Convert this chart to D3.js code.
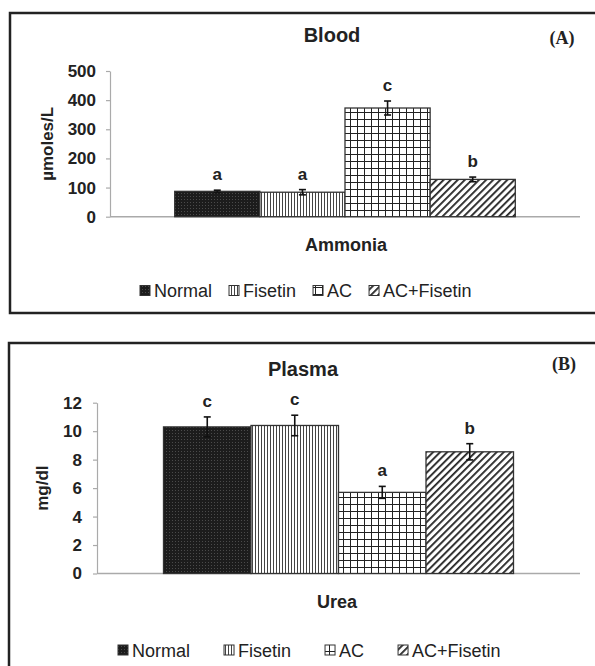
<!DOCTYPE html>
<html>
<head>
<meta charset="utf-8">
<script src="https://cdn.jsdelivr.net/npm/d3@7"></script>
<style>
  html, body { margin: 0; padding: 0; background: #fff; }
  svg { display: block; }
  text { font-family: "Liberation Sans", Arial, sans-serif; fill: #222; }
</style>
</head>
<body>
<svg id="chart" width="595" height="666"></svg>
<script>
// ---- data ----
const groups = ["Normal", "Fisetin", "AC", "AC+Fisetin"];

const bloodCategory = ["Ammonia"];
const bloodValues = [87, 84, 373, 128];
const bloodErrors = [4, 9, 24, 8];
const bloodLetters = ["a", "a", "c", "b"];
const bloodTicks = [0, 100, 200, 300, 400, 500];

const plasmaCategory = ["Urea"];
const plasmaValues = [10.3, 10.4, 5.7, 8.55];
const plasmaErrors = [0.7, 0.72, 0.42, 0.57];
const plasmaLetters = ["c", "c", "a", "b"];
const plasmaTicks = [0, 2, 4, 6, 8, 10, 12];

const svg = d3.select("#chart");
const defs = svg.append("defs");

// patterns
const pNormal = defs.append("pattern").attr("id", "pNormal").attr("patternUnits", "userSpaceOnUse")
  .attr("width", 3).attr("height", 3);
pNormal.append("rect").attr("width", 3).attr("height", 3).attr("fill", "#1c1c1c");
pNormal.append("rect").attr("x", 1).attr("y", 1).attr("width", 1).attr("height", 1).attr("fill", "#4a4a4a");

const pFis = defs.append("pattern").attr("id", "pFisetin").attr("patternUnits", "userSpaceOnUse")
  .attr("width", 3).attr("height", 3);
pFis.append("rect").attr("width", 3).attr("height", 3).attr("fill", "#fff");
pFis.append("rect").attr("x", 0).attr("y", 0).attr("width", 1).attr("height", 3).attr("fill", "#444");

const pAC = defs.append("pattern").attr("id", "pAC").attr("patternUnits", "userSpaceOnUse")
  .attr("width", 7).attr("height", 7);
pAC.append("rect").attr("width", 7).attr("height", 7).attr("fill", "#fff");
pAC.append("rect").attr("x", 0).attr("y", 0).attr("width", 1).attr("height", 7).attr("fill", "#222");
pAC.append("rect").attr("x", 0).attr("y", 0).attr("width", 7).attr("height", 1).attr("fill", "#222");

const pACF = defs.append("pattern").attr("id", "pACF").attr("patternUnits", "userSpaceOnUse")
  .attr("width", 5).attr("height", 5).attr("patternTransform", "rotate(45)");
pACF.append("rect").attr("width", 5).attr("height", 5).attr("fill", "#fff");
pACF.append("rect").attr("x", 0).attr("y", 0).attr("width", 1.8).attr("height", 5).attr("fill", "#222");

const fills = d3.scaleOrdinal().domain(groups).range(["url(#pNormal)", "url(#pFisetin)", "url(#pAC)", "url(#pACF)"]);

function drawPanel(cfg) {
  const g = svg.append("g");
  // frame
  g.append("rect").attr("x", cfg.box[0]).attr("y", cfg.box[1]).attr("width", cfg.box[2]).attr("height", cfg.box[3])
    .attr("fill", "none").attr("stroke", "#222").attr("stroke-width", 2.5);

  const y = d3.scaleLinear().domain([0, cfg.ticks[cfg.ticks.length - 1]]).range([cfg.y0, cfg.y1]);
  const x0 = d3.scaleBand().domain(cfg.category).range([cfg.xl, cfg.xr]).paddingInner(0).paddingOuter(0.19);
  const x1 = d3.scaleBand().domain(groups).range([0, x0.bandwidth()]).padding(0);

  // axis
  const ax = g.append("g").attr("transform", `translate(${cfg.xl},0)`)
    .call(d3.axisLeft(y).tickValues(cfg.ticks).tickSize(4).tickSizeOuter(0).tickPadding(cfg.tickPad).tickFormat(d3.format("d")));
  ax.select(".domain").attr("stroke", "#aaa").attr("stroke-width", 1.2);
  ax.selectAll(".tick line").attr("stroke", "#aaa").attr("stroke-width", 1.2);
  ax.selectAll(".tick text").attr("font-size", 17).attr("font-weight", "bold").attr("fill", "#222")
    .attr("font-family", "Liberation Sans, Arial, sans-serif");

  // baseline
  g.append("line").attr("x1", cfg.xl).attr("x2", cfg.xr).attr("y1", y(0)).attr("y2", y(0))
    .attr("stroke", "#aaa").attr("stroke-width", 1.5);

  const data = groups.map((k, i) => ({ k, v: cfg.values[i], e: cfg.errors[i], l: cfg.letters[i] }));
  const cat = cfg.category[0];
  const bx = d => x0(cat) + x1(d.k);

  g.selectAll("rect.bar").data(data).join("rect").attr("class", "bar")
    .attr("x", d => bx(d)).attr("y", d => y(d.v))
    .attr("width", x1.bandwidth()).attr("height", d => y(0) - y(d.v))
    .attr("fill", d => fills(d.k)).attr("stroke", "#333").attr("stroke-width", 1.3);

  // error bars
  const eb = g.selectAll("g.eb").data(data).join("g").attr("class", "eb");
  const cx = d => bx(d) + x1.bandwidth() / 2;
  eb.append("line").attr("x1", cx).attr("x2", cx).attr("y1", d => y(d.v + d.e)).attr("y2", d => y(d.v - d.e))
    .attr("stroke", "#111").attr("stroke-width", 1.6);
  eb.append("line").attr("x1", d => cx(d) - 3.5).attr("x2", d => cx(d) + 3.5).attr("y1", d => y(d.v + d.e)).attr("y2", d => y(d.v + d.e))
    .attr("stroke", "#111").attr("stroke-width", 1.6);
  eb.append("line").attr("x1", d => cx(d) - 3.5).attr("x2", d => cx(d) + 3.5).attr("y1", d => y(d.v - d.e)).attr("y2", d => y(d.v - d.e))
    .attr("stroke", "#111").attr("stroke-width", 1.6);

  // letters
  g.selectAll("text.lt").data(data).join("text").attr("class", "lt")
    .attr("x", cx).attr("y", d => y(d.v + d.e) - 10)
    .attr("text-anchor", "middle").attr("font-size", 17).attr("font-weight", "bold").text(d => d.l);

  // titles
  g.append("text").attr("x", cfg.titleX).attr("y", cfg.titleY).attr("text-anchor", "middle")
    .attr("font-size", 20).attr("font-weight", "bold").text(cfg.title);
  g.append("text").attr("x", cfg.tagX).attr("y", cfg.tagY).attr("text-anchor", "middle")
    .style("font-family", "'Liberation Serif', 'Times New Roman', serif")
    .attr("font-size", 18).attr("font-weight", "bold").text(cfg.tag);
  g.append("text").attr("x", cfg.catX).attr("y", cfg.catY).attr("text-anchor", "middle")
    .attr("font-size", 18).attr("font-weight", "bold").text(cat);
  g.append("text").attr("transform", `translate(${cfg.ylabX},${(cfg.y0 + cfg.y1) / 2}) rotate(-90)`)
    .attr("text-anchor", "middle").attr("font-size", 17).attr("font-weight", "bold").text(cfg.ylab);

  // legend
  const lg = g.append("g");
  let xp = cfg.legX;
  groups.forEach(k => {
    lg.append("rect").attr("x", xp).attr("y", cfg.legY - 5).attr("width", 10).attr("height", 10)
      .attr("fill", fills(k)).attr("stroke", "#333").attr("stroke-width", 1);
    const t = lg.append("text").attr("x", xp + 14).attr("y", cfg.legY + 6.5).attr("font-size", 18).text(k);
    xp += 14 + t.node().getComputedTextLength() + cfg.legGap;
  });
}

drawPanel({
  box: [10, 13, 600, 300],
  category: bloodCategory, values: bloodValues, errors: bloodErrors, letters: bloodLetters, ticks: bloodTicks,
  y0: 216.7, y1: 71, xl: 110, xr: 580, tickPad: 10,
  title: "Blood", titleX: 332, titleY: 42, tag: "(A)", tagX: 562, tagY: 44,
  catX: 346, catY: 251, ylab: "µmoles/L", ylabX: 53,
  legX: 140, legY: 290.5, legGap: 17
});

drawPanel({
  box: [9, 343, 600, 340],
  category: plasmaCategory, values: plasmaValues, errors: plasmaErrors, letters: plasmaLetters, ticks: plasmaTicks,
  y0: 573.5, y1: 402.7, xl: 97, xr: 580, tickPad: 11,
  title: "Plasma", titleX: 303, titleY: 376, tag: "(B)", tagX: 564, tagY: 370,
  catX: 337, catY: 608, ylab: "mg/dl", ylabX: 48,
  legX: 118, legY: 650, legGap: 34
});
</script>
</body>
</html>
